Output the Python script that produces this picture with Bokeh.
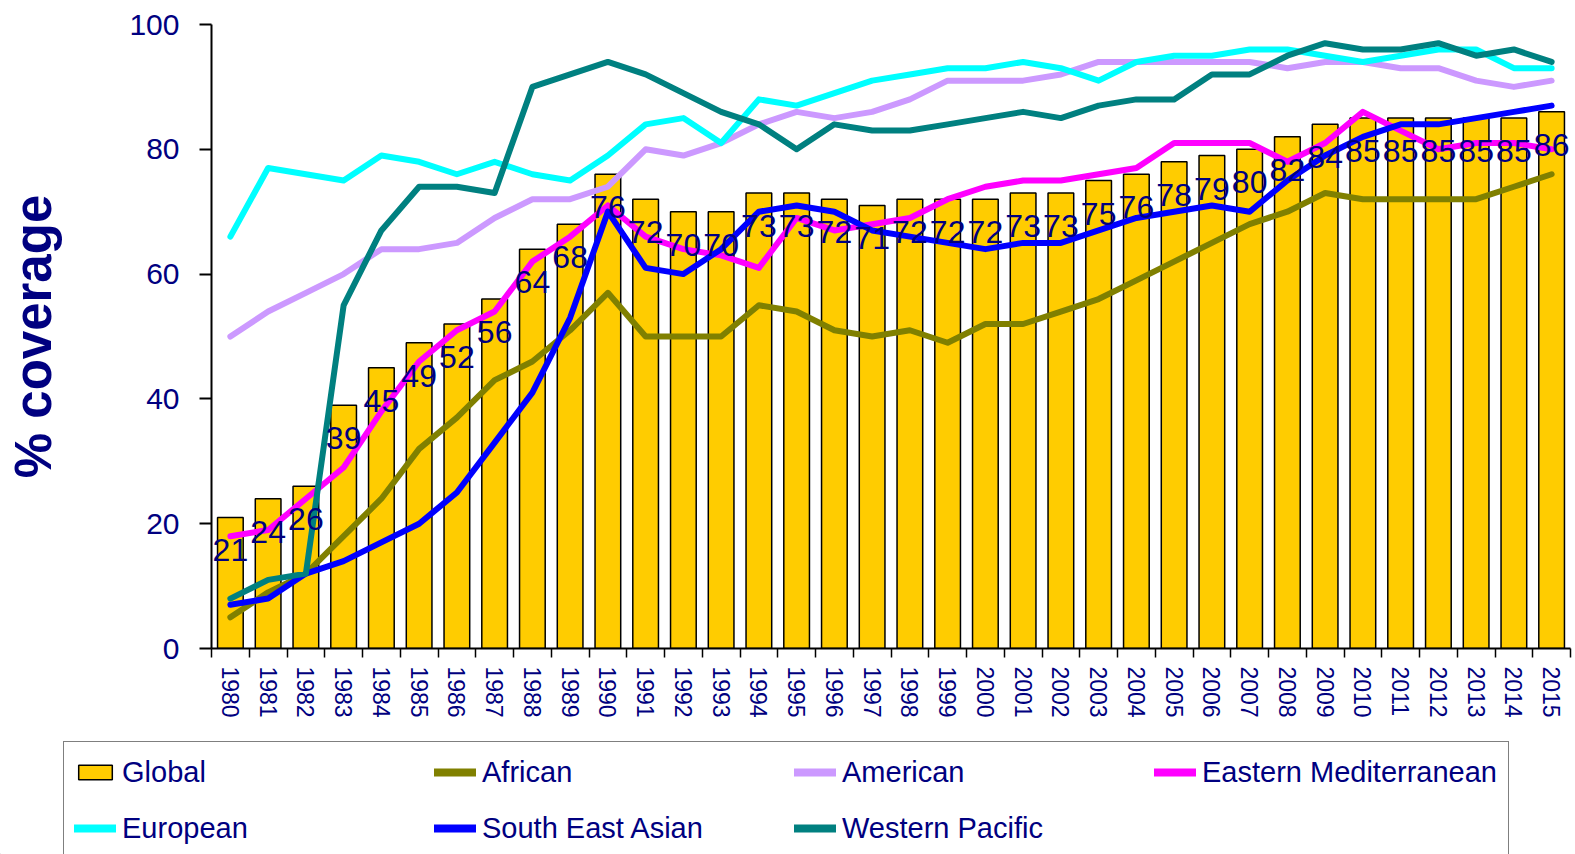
from bokeh.plotting import figure
from bokeh.models import ColumnDataSource, Range1d, FixedTicker, Legend, LegendItem, LabelSet
from bokeh.core.properties import value
from bokeh.embed import file_html
from bokeh.resources import INLINE

years = list(range(1980, 2016))
y_ticks = [0, 20, 40, 60, 80, 100]
global_cov = [21, 24, 26, 39, 45, 49, 52, 56, 64, 68, 76, 72, 70, 70, 73, 73, 72, 71, 72, 72,
              72, 73, 73, 75, 76, 78, 79, 80, 82, 84, 85, 85, 85, 85, 85, 86]
african = [5, 9, 12, 18, 24, 32, 37, 43, 46, 51, 57, 50, 50, 50, 55, 54, 51, 50, 51, 49,
           52, 52, 54, 56, 59, 62, 65, 68, 70, 73, 72, 72, 72, 72, 74, 76]
american = [50, 54, 57, 60, 64, 64, 65, 69, 72, 72, 74, 80, 79, 81, 84, 86, 85, 86, 88, 91,
            91, 91, 92, 94, 94, 94, 94, 94, 93, 94, 94, 93, 93, 91, 90, 91]
east_med = [18, 19, 24, 29, 38, 46, 51, 54, 62, 66, 71, 66, 64, 63, 61, 69, 67, 68, 69, 72,
            74, 75, 75, 76, 77, 81, 81, 81, 78, 81, 86, 83, 80, 81, 81, 80]
european = [66, 77, 76, 75, 79, 78, 76, 78, 76, 75, 79, 84, 85, 81, 88, 87, 89, 91, 92, 93,
            93, 94, 93, 91, 94, 95, 95, 96, 96, 95, 94, 95, 96, 96, 93, 93]
se_asian = [7, 8, 12, 14, 17, 20, 25, 33, 41, 53, 70, 61, 60, 64, 70, 71, 70, 67, 66, 65,
            64, 65, 65, 67, 69, 70, 71, 70, 75, 79, 82, 84, 84, 85, 86, 87]
w_pacific = [8, 11, 12, 55, 67, 74, 74, 73, 90, 92, 94, 92, 89, 86, 84, 80, 84, 83, 83, 84,
             85, 86, 85, 87, 88, 88, 92, 92, 95, 97, 96, 96, 97, 95, 96, 94]

series = [
    ("African", african, "#808000"),
    ("American", american, "#CC99FF"),
    ("Eastern Mediterranean", east_med, "#FF00FF"),
    ("European", european, "#00FFFF"),
    ("South East Asian", se_asian, "#0000FF"),
    ("Western Pacific", w_pacific, "#008080"),
]

NAVY = "#000080"
FONT = "Liberation Sans"
BAR_FILL = "#FFCC00"
LINE_W = 6

# ---------------- main chart ----------------
p = figure(width=1575, height=739, output_backend="svg", toolbar_location=None,
           x_range=Range1d(years[0] - 0.5, years[-1] + 0.5), y_range=Range1d(0, 100),
           min_border_left=211, min_border_right=5, min_border_top=24, min_border_bottom=91)
p.xgrid.visible = False
p.ygrid.visible = False
p.outline_line_color = None
p.background_fill_color = "white"
p.border_fill_color = "white"

p.vbar(x=years, top=global_cov, width=0.68, fill_color=BAR_FILL,
       line_color="black", line_width=1.5)

for name, vals, col in series:
    p.line(years, vals, line_color=col, line_width=LINE_W, line_join="round", line_cap="round")

src = ColumnDataSource(dict(x=years, y=global_cov, t=[str(v) for v in global_cov]))
labels = LabelSet(x="x", y="y", text="t", source=src, text_align="center",
                  text_baseline="middle", y_offset=-33, text_font_size="32px",
                  text_color=NAVY, text_font=value(FONT))
p.add_layout(labels)

# y axis
ya = p.yaxis[0]
ya.ticker = FixedTicker(ticks=y_ticks)
ya.major_tick_out = 12
ya.major_tick_in = 0
ya.minor_tick_out = 0
ya.minor_tick_in = 0
ya.axis_line_width = 2
ya.major_tick_line_width = 2
ya.major_label_text_font = FONT
ya.major_label_text_font_size = "30px"
ya.major_label_text_color = NAVY
ya.major_label_standoff = 20
ya.axis_label = "% coverage"
ya.axis_label_text_font = FONT
ya.axis_label_text_font_size = "51px"
ya.axis_label_text_font_style = "bold"
ya.axis_label_text_color = NAVY
ya.axis_label_standoff = 64

# x axis
xa = p.xaxis[0]
xa.ticker = FixedTicker(ticks=years, minor_ticks=[y - 0.5 for y in years] + [years[-1] + 0.5])
xa.major_tick_out = 0
xa.major_tick_in = 0
xa.minor_tick_out = 9
xa.minor_tick_in = 0
xa.minor_tick_line_color = "black"
xa.minor_tick_line_width = 1.5
xa.axis_line_width = 2
xa.major_label_orientation = "vertical"
xa.major_label_text_font = FONT
xa.major_label_text_font_size = "23px"
xa.major_label_text_color = NAVY
xa.major_label_standoff = 9

# ---------------- legend strip (separate root, no frame alignment) ----------------
lg = figure(width=1575, height=115, output_backend="svg", toolbar_location=None,
            x_axis_location=None, y_axis_location=None, min_border=0,
            x_range=Range1d(0, 1), y_range=Range1d(0, 1))
lg.xgrid.visible = False
lg.ygrid.visible = False
lg.outline_line_color = None
lg.border_fill_color = "white"

# legend-key renderers: placed outside the visible range, only the keys show
items = [LegendItem(label="Global", renderers=[
    lg.vbar(x=[-5], top=[-5], bottom=[-6], width=0.5, fill_color=BAR_FILL,
            line_color="black", line_width=1.5)])]
for name, vals, col in series:
    r = lg.line([-6, -5], [-5, -5], line_color=col, line_width=8, line_cap="round")
    items.append(LegendItem(label=name, renderers=[r]))

legend = Legend(items=items, location=(63, -5), orientation="horizontal", ncols=4,
                label_text_font=FONT, label_text_font_size="29px", label_text_color=NAVY,
                label_standoff=6, glyph_width=42, glyph_height=18, label_width=296,
                label_height=40, spacing=16, padding=10, margin=0,
                border_line_color="black", border_line_width=1.5,
                background_fill_color="white", background_fill_alpha=1.0)
lg.add_layout(legend)

open("out.html", "w").write(file_html([p, lg], INLINE))
